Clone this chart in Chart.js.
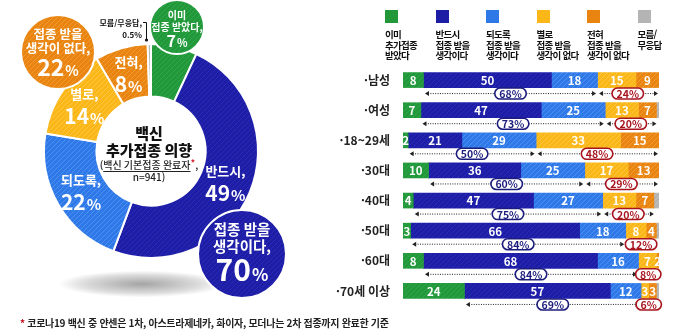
<!DOCTYPE html>
<html lang="ko">
<head>
<meta charset="utf-8">
<script src="https://cdn.jsdelivr.net/npm/chart.js@4.4.0/dist/chart.umd.min.js"></script>
<style>
  body { margin: 0; background: #fff; font-family: "Noto Sans CJK KR", sans-serif; }
  #wrap { position: relative; width: 680px; height: 336px; overflow: hidden; }
  #shadow { position: absolute; left: 60px; top: 271px; width: 164px; height: 26px;
    background: radial-gradient(ellipse at center, rgba(90,90,90,0.55) 0%, rgba(140,140,140,0.3) 50%, rgba(255,255,255,0) 72%); }
  #donut { position: absolute; left: 0; top: 0; }
  #bars { position: absolute; left: 330px; top: 0; }
  #legend { position: absolute; left: 385px; top: 10px; display: flex; }
  .item { width: 50.5px; font-size: 9.5px; font-weight: 700; line-height: 10.5px; color: #111; letter-spacing: -0.7px; white-space: pre; }
  .sw { width: 13px; height: 13px; margin-bottom: 6px; }
  #note { position: absolute; left: 20px; top: 315px; font-size: 10px; font-weight: 700; color: #222; letter-spacing: -0.3px; }
  #note span { color: #c8141e; }
</style>
</head>
<body>
<div id="wrap">
  <div id="shadow"></div>
  <canvas id="donut" width="340" height="300"></canvas>
  <canvas id="bars" width="350" height="336"></canvas>
  <div id="legend"></div>
  <div id="note"><span>*</span> 코로나19 백신 중 얀센은 1차, 아스트라제네카, 화이자, 모더나는 2차 접종까지 완료한 기준</div>
</div>
<script>
const FONT = '"Noto Sans CJK KR", sans-serif';
Chart.defaults.font.family = FONT;

// left: overall intention (percent)
const donutNames = ['이미 접종 받았다', '반드시', '되도록', '별로', '전혀', '모름/무응답'];
const donutValues = [7, 49, 22, 14, 8, 0.5];
const willingTotal = 70;
const unwillingTotal = 22;
const sampleSize = 941;

// right: by group (percent)
const groups = ['·남성', '·여성', '·18~29세', '·30대', '·40대', '·50대', '·60대', '·70세 이상'];
const seriesNames = ['이미\n추가접종\n받았다', '반드시\n접종 받을\n생각이다', '되도록\n접종 받을\n생각이다',
  '별로\n접종 받을\n생각이 없다', '전혀\n접종 받을\n생각이 없다', '모름/\n무응답'];
const already = [8, 7, 2, 10, 4, 3, 8, 24];
const mustGet = [50, 47, 21, 36, 47, 66, 68, 57];
const preferGet = [18, 25, 29, 25, 27, 18, 16, 12];
const ratherNot = [15, 13, 33, 17, 13, 8, 7, 3];
const neverGet = [9, 7, 15, 13, 7, 4, 2, 3];
const dontKnow = [0, 1, 0, 0, 2, 1, 0, 1];
const willingPct = [68, 73, 50, 60, 75, 84, 84, 69];
const unwillingPct = [24, 20, 48, 29, 20, 12, 8, 6];

const GREEN = '#22983a', NAVY = '#1d1da6', BLUE = '#2e78e8', YELLOW = '#fbb618', ORANGE = '#e8840f', GREY = '#b4b4b4';
const baseColours = [GREEN, NAVY, BLUE, YELLOW, ORANGE, GREY];
const lineColours = ['#2ba84a', '#2a2ab8', '#4c90f2', '#fcc640', '#f09a32', '#c2c2c2'];

// subtle diagonal hatching like the original
function hatch(base, line) {
  const c = document.createElement('canvas');
  c.width = 5; c.height = 5;
  const g = c.getContext('2d');
  g.fillStyle = base;
  g.fillRect(0, 0, 5, 5);
  g.strokeStyle = line;
  g.lineWidth = 1;
  g.beginPath();
  g.moveTo(-1, 6); g.lineTo(6, -1);
  g.moveTo(-1, 1); g.lineTo(1, -1);
  g.moveTo(4, 6); g.lineTo(6, 4);
  g.stroke();
  return g.createPattern(c, 'repeat');
}
const fills = baseColours.map((c, i) => hatch(c, lineColours[i]));

// legend
const legendEl = document.getElementById('legend');
seriesNames.forEach((name, i) => {
  const it = document.createElement('div');
  it.className = 'item';
  it.innerHTML = '<div class="sw" style="background:' + baseColours[i] + '"></div>' + name;
  legendEl.appendChild(it);
});

function pctText(ctx, num, cx, cy, big, small, colour) {
  ctx.save();
  ctx.fillStyle = colour;
  ctx.textAlign = 'left';
  ctx.textBaseline = 'alphabetic';
  ctx.font = '700 ' + big + 'px ' + FONT;
  const w1 = ctx.measureText(String(num)).width;
  ctx.font = '700 ' + small + 'px ' + FONT;
  const w2 = ctx.measureText('%').width;
  const x0 = cx - (w1 + w2 + 1) / 2;
  const base = cy + big * 0.37;
  ctx.font = '700 ' + big + 'px ' + FONT;
  ctx.fillText(String(num), x0, base);
  ctx.font = '700 ' + small + 'px ' + FONT;
  ctx.fillText('%', x0 + w1 + 1, base);
  ctx.restore();
}

function line(ctx, text, x, y, size, colour, weight) {
  ctx.font = (weight || 700) + ' ' + size + 'px ' + FONT;
  ctx.fillStyle = colour;
  ctx.textAlign = 'center';
  ctx.textBaseline = 'middle';
  ctx.fillText(text, x, y);
}

function bubble(ctx, x, y, r, fill) {
  ctx.save();
  ctx.beginPath();
  ctx.arc(x, y, r, 0, Math.PI * 2);
  ctx.fillStyle = fill;
  ctx.fill();
  ctx.lineWidth = 2;
  ctx.strokeStyle = '#fff';
  ctx.stroke();
  ctx.restore();
}

const donutDecor = {
  id: 'donutDecor',
  afterDatasetsDraw(chart) {
    const ctx = chart.ctx;
    const area = chart.chartArea;
    const cx = (area.left + area.right) / 2;
    const cy = (area.top + area.bottom) / 2;
    const arcs = chart.getDatasetMeta(0).data;

    ctx.save();
    // labels on the ring
    for (let i = 1; i <= 4; i++) {
      const p = arcs[i].tooltipPosition();
      line(ctx, donutNames[i] + ',', p.x, p.y - 11, 13, '#fff');
      pctText(ctx, donutValues[i], p.x, p.y + 11, 21, 15, '#fff');
    }

    // centre text
    line(ctx, '백신', cx - 2, cy - 18, 15, '#111', 900);
    line(ctx, '추가접종 의향', cx - 2, cy - 1, 15, '#111', 900);
    ctx.font = '500 10px ' + FONT;
    const pieces = ['(', '백신 기본접종 완료자', '*', ','];
    const widths = pieces.map(t => ctx.measureText(t).width);
    let x = cx - 2 - widths.reduce((a, b) => a + b, 0) / 2;
    const y3 = cy + 14;
    ctx.textAlign = 'left';
    ctx.textBaseline = 'middle';
    pieces.forEach((t, k) => {
      ctx.fillStyle = k === 2 ? '#d0141e' : '#222';
      ctx.fillText(t, x, k === 2 ? y3 - 2 : y3);
      if (k === 1) {
        ctx.fillRect(x, y3 + 6, widths[k], 1);
      }
      x += widths[k];
    });
    line(ctx, 'n=' + sampleSize + ')', cx - 2, cy + 26, 10, '#222', 500);

    // bubbles
    bubble(ctx, cx + 26, cy - 124, 27, fills[0]);
    line(ctx, '이미', cx + 26, cy - 136, 10, '#fff');
    line(ctx, '접종 받았다,', cx + 26, cy - 124, 10, '#fff');
    pctText(ctx, donutValues[0], cx + 26, cy - 110, 16, 11, '#fff');

    bubble(ctx, cx - 93, cy - 99, 37, fills[4]);
    line(ctx, '접종 받을', cx - 93, cy - 117, 12.5, '#fff');
    line(ctx, '생각이 없다,', cx - 93, cy - 103, 12.5, '#fff');
    pctText(ctx, unwillingTotal, cx - 93, cy - 84, 23, 14, '#fff');

    bubble(ctx, cx + 91, cy + 103, 44, fills[1]);
    line(ctx, '접종 받을', cx + 91, cy + 78, 14.5, '#fff');
    line(ctx, '생각이다,', cx + 91, cy + 95, 14.5, '#fff');
    pctText(ctx, willingTotal, cx + 91, cy + 119, 30, 17, '#fff');

    // no-answer callout
    ctx.font = '700 8px ' + FONT;
    ctx.fillStyle = '#111';
    ctx.textAlign = 'right';
    ctx.textBaseline = 'middle';
    ctx.fillText(donutNames[5] + ',', cx - 9, cy - 128);
    ctx.fillText(donutValues[5] + '%', cx - 9, cy - 116);
    ctx.strokeStyle = '#111';
    ctx.lineWidth = 1;
    ctx.beginPath();
    ctx.moveTo(cx - 8, cy - 128.5);
    ctx.lineTo(cx - 4.5, cy - 128.5);
    ctx.lineTo(cx - 4.5, cy - 111);
    ctx.stroke();
    ctx.beginPath();
    ctx.arc(cx - 4.5, cy - 111, 1.6, 0, Math.PI * 2);
    ctx.fillStyle = '#111';
    ctx.fill();
    ctx.restore();
  }
};

new Chart(document.getElementById('donut'), {
  type: 'doughnut',
  data: {
    labels: donutNames,
    datasets: [{
      data: donutValues,
      backgroundColor: fills,
      borderColor: '#fff',
      borderWidth: 2,
      hoverOffset: 0
    }]
  },
  options: {
    responsive: false,
    animation: false,
    devicePixelRatio: 1,
    cutout: '51%',
    rotation: 0,
    layout: { padding: { left: 43, top: 43, right: 81, bottom: 41 } },
    plugins: { legend: { display: false }, tooltip: { enabled: false } }
  },
  plugins: [donutDecor]
});

function pill(ctx, text, x, y, colour) {
  ctx.font = '700 10.5px ' + FONT;
  const w = ctx.measureText(text).width + 9;
  const h = 11;
  ctx.save();
  ctx.setLineDash([]);
  ctx.beginPath();
  ctx.roundRect(x - w / 2, y - h / 2, w, h, h / 2);
  ctx.fillStyle = '#fff';
  ctx.fill();
  ctx.lineWidth = 1.6;
  ctx.strokeStyle = colour;
  ctx.stroke();
  ctx.fillStyle = colour;
  ctx.textAlign = 'center';
  ctx.textBaseline = 'middle';
  ctx.fillText(text, x, y + 0.5);
  ctx.restore();
}

function bracket(ctx, x1, x2, y) {
  ctx.save();
  ctx.strokeStyle = '#222';
  ctx.fillStyle = '#222';
  ctx.lineWidth = 1;
  ctx.setLineDash([1, 1.4]);
  ctx.beginPath();
  ctx.moveTo(x1 + 3, y);
  ctx.lineTo(x2 - 3, y);
  ctx.stroke();
  ctx.beginPath();
  ctx.moveTo(x1, y); ctx.lineTo(x1 + 4, y - 2.5); ctx.lineTo(x1 + 4, y + 2.5); ctx.closePath();
  ctx.moveTo(x2, y); ctx.lineTo(x2 - 4, y - 2.5); ctx.lineTo(x2 - 4, y + 2.5); ctx.closePath();
  ctx.fill();
  ctx.restore();
}

const barDecor = {
  id: 'barDecor',
  afterDatasetsDraw(chart) {
    const ctx = chart.ctx;
    const xs = chart.scales.x;
    const right = chart.chartArea.right;
    ctx.save();
    // values inside segments
    for (let d = 0; d < 5; d++) {
      chart.getDatasetMeta(d).data.forEach((bar, i) => {
        const v = chart.data.datasets[d].data[i];
        if (!v) return;
        const x = (Math.min(bar.x, right) + bar.base) / 2;
        ctx.font = '700 11.5px ' + FONT;
        ctx.fillStyle = '#fff';
        ctx.textAlign = 'center';
        ctx.textBaseline = 'middle';
        ctx.fillText(String(v), x, bar.y + 0.5);
      });
    }
    // brackets with totals
    chart.getDatasetMeta(0).data.forEach((bar, i) => {
      const y = bar.y + 13.5;
      const a = xs.getPixelForValue(already[i]);
      const b = xs.getPixelForValue(already[i] + mustGet[i] + preferGet[i]);
      const c = Math.min(xs.getPixelForValue(already[i] + mustGet[i] + preferGet[i] + ratherNot[i] + neverGet[i]), right - 1);
      bracket(ctx, a + 1.5, b - 1.5, y);
      bracket(ctx, b + 1.5, c, y);
      pill(ctx, willingPct[i] + '%', (a + b) / 2, y, '#1c1c7c');
      pill(ctx, unwillingPct[i] + '%', (b + c) / 2, y, '#a8141e');
    });
    ctx.restore();
  }
};

const seriesData = [already, mustGet, preferGet, ratherNot, neverGet, dontKnow];
new Chart(document.getElementById('bars'), {
  type: 'bar',
  data: {
    labels: groups,
    datasets: seriesData.map((values, k) => ({
      label: seriesNames[k].replace(/\n/g, ' '),
      data: values,
      backgroundColor: fills[k],
      borderWidth: 0,
      barThickness: 15,
      clip: 0
    }))
  },
  options: {
    indexAxis: 'y',
    responsive: false,
    animation: false,
    devicePixelRatio: 1,
    layout: { padding: { top: 65, bottom: 30, right: 21, left: 0 } },
    scales: {
      x: { stacked: true, min: 0, max: 100, display: false },
      y: {
        stacked: true,
        grid: { display: false, drawTicks: false },
        border: { display: false },
        ticks: { color: '#222', font: { size: 12, weight: '700' }, padding: 13 },
        afterFit(scale) { scale.width = 73; }
      }
    },
    plugins: { legend: { display: false }, tooltip: { enabled: false } }
  },
  plugins: [barDecor]
});
</script>
</body>
</html>
